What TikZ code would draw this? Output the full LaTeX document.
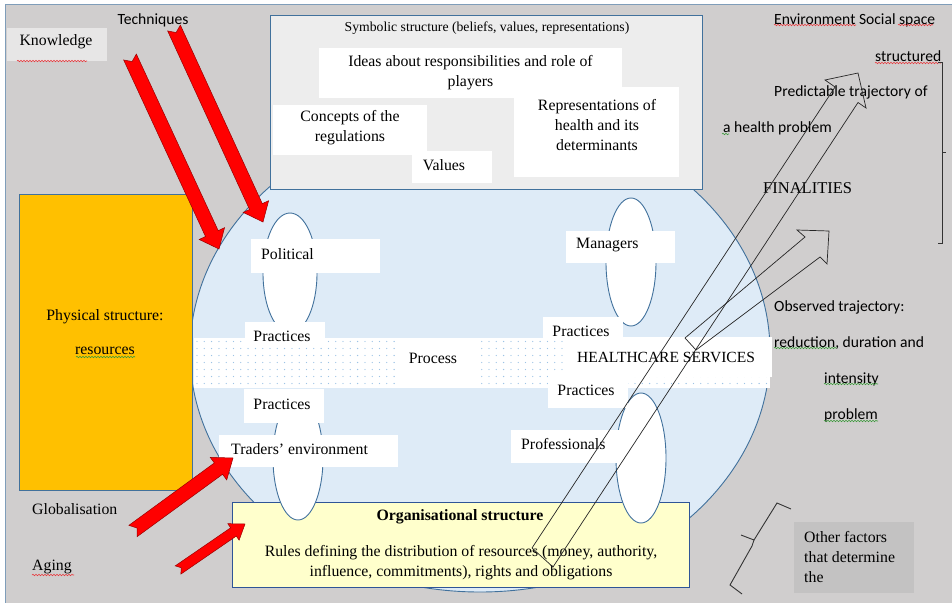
\documentclass[tikz,border=0pt]{standalone}
\usepackage{fontspec}
\setmainfont{Liberation Serif}
\newfontfamily\calfont{Carlito}
\usetikzlibrary{calc,shapes.geometric,decorations.pathmorphing}
\definecolor{bggray}{HTML}{D0CECE}
\definecolor{frameblue}{HTML}{7F9DB9}
\definecolor{lineblue}{HTML}{41719C}
\definecolor{darkblue}{HTML}{2F5597}
\definecolor{circblue}{HTML}{DEEBF7}
\definecolor{symgray}{HTML}{EDEDED}
\definecolor{knowgray}{HTML}{E7E6E6}
\definecolor{physorange}{HTML}{FFC000}
\definecolor{orgyellow}{HTML}{FFFFCC}
\definecolor{othergray}{HTML}{C3C2C2}
\definecolor{dotblue}{HTML}{9DC3E6}
\definecolor{wred}{HTML}{E8383D}
\definecolor{wgreen}{HTML}{3A9A3A}
\newcommand\redarr[6]{%
  \coordinate (ra-h) at ($(#2)!#5!(#1)$);
  \filldraw[redarrow] ($(#1)!#3!90:(#2)$) -- ($(#1)!#6!(#2)$) -- ($(#1)!#3!-90:(#2)$)
    -- ($(ra-h)!#3!-90:(#2)$) -- ($(ra-h)!#4!-90:(#2)$) -- (#2)
    -- ($(ra-h)!#4!90:(#2)$) -- ($(ra-h)!#3!90:(#2)$) -- cycle;}
\begin{document}
\begin{tikzpicture}[x=1pt,y=-1pt,
  every node/.style={inner sep=0pt, font=\fontsize{15.8}{20}\selectfont},
  outl/.style={draw=lineblue, line width=0.9pt},
  wbox/.style={rectangle, fill=white},
  well/.style={ellipse, fill=white, outl},
  sans/.style={font=\calfont\fontsize{15.6}{20}\selectfont},
  redarrow/.style={fill=red, draw=red!60!black, line width=0.5pt},
  hollow/.style={draw=black!85, line width=0.7pt, line join=miter},
  wavy/.style={decorate, decoration={snake, amplitude=0.7pt, segment length=3pt}, line width=0.6pt},
  brk/.style={draw=black!80, line width=0.9pt},
  banddot/.style={fill=dotblue},
]
\clip (0,0) rectangle (952,602);
\fill[white] (0,0) rectangle (952,602);
\node[rectangle, fill=bggray, draw=frameblue, line width=0.8pt, minimum width=960pt, minimum height=610pt, anchor=north west] (frame) at (5,4) {};

% big ellipse
\node[ellipse, fill=circblue, outl, minimum width=580pt, minimum height=480pt] (circ) at (480,352) {};

% symbolic structure
\node[rectangle, fill=symgray, outl, minimum width=432pt, minimum height=174pt] (symb) at (486,102) {};
\node[font=\fontsize{13.7}{16}\selectfont] (symbT) at (487,28) {Symbolic structure (beliefs, values, representations)};
\node[wbox, minimum width=303pt, minimum height=50pt] (ideasB) at (470.5,73) {};
\node[align=center] (ideas) at (470.5,73) {Ideas about responsibilities and role of\\players};
\node[wbox, minimum width=154pt, minimum height=50pt] (concB) at (350,130) {};
\node[align=center] (conc) at (350,128) {Concepts of the\\regulations};
\node[wbox, minimum width=80pt, minimum height=32pt] (valB) at (452,167) {};
\node (val) at (444,165) {Values};
\node[wbox, minimum width=165pt, minimum height=90pt] (repB) at (596.5,132) {};
\node[align=center] (rep) at (597,125) {Representations of\\health and its\\determinants};

% knowledge / techniques
\node[rectangle, fill=knowgray, minimum width=100pt, minimum height=33pt] (knowB) at (57,44.5) {};
\node (know) at (56,42) {Knowledge};
\draw[wavy, wred] (17,61) -- (87,61);
\node[sans] (tech) at (153,20) {Techniques};

% physical structure
\node[rectangle, fill=physorange, outl, minimum width=173pt, minimum height=296pt] (phys) at (105.5,342) {};
\node (physT) at (105,317) {Physical structure:};
\node (res) at (105,351) {resources};
\draw[wavy, wgreen] (76,357) -- (135,357);

% process band
\node[rectangle, fill=white, minimum width=576pt, minimum height=50pt] (band) at (482,363) {};
\foreach \i in {0,...,78} {\foreach \j in {0,...,6} {\fill[banddot] (197+7.3*\i, 341.5+7*\j) circle[radius=0.65pt];}}
\node[wbox, minimum width=84pt, minimum height=50pt] (procB) at (439,363) {};
\node (proc) at (433,358) {Process};
\node[wbox, minimum width=209pt, minimum height=40pt] (hcB) at (667.5,357) {};
\node[font=\fontsize{15.5}{18}\selectfont] (hc) at (666,357) {HEALTHCARE SERVICES};

% organisational structure
\node[rectangle, fill=orgyellow, draw=darkblue, line width=0.9pt, minimum width=457pt, minimum height=85pt] (org) at (460.5,544.5) {};
\node[font=\bfseries\fontsize{15.8}{20}\selectfont] (orgT) at (460,517) {Organisational structure};
\node[align=center] (orgR) at (461,563) {Rules defining the distribution of resources (money, authority,\\influence, commitments), rights and obligations};

% small ellipses
\node[well, minimum width=54pt, minimum height=120pt] (polE) at (290,273) {};
\node[well, minimum width=50pt, minimum height=128pt] (manE) at (631,262) {};
\node[well, minimum width=50pt, minimum height=124pt] (traE) at (298,458) {};
\node[well, minimum width=50pt, minimum height=130pt] (proE) at (641,458) {};

% label boxes
\node[wbox, minimum width=129pt, minimum height=34pt] (polB) at (315.5,256) {};
\node[anchor=west] (pol) at (261,254) {Political};
\node[wbox, minimum width=109pt, minimum height=32pt] (manB) at (620.5,247) {};
\node[anchor=west] (man) at (576,245) {Managers};
\node[wbox, minimum width=179pt, minimum height=32pt] (traB) at (308.5,451) {};
\node[anchor=west] (tra) at (231,449) {Traders' environment};
\node[wbox, minimum width=108pt, minimum height=33pt] (proB) at (565,446.5) {};
\node[anchor=west] (pro) at (521,444) {Professionals};
\node[wbox, minimum width=80pt, minimum height=24pt] (pLUB) at (285,334) {};
\node (pLU) at (282,336) {Practices};
\node[wbox, minimum width=80pt, minimum height=34pt] (pLLB) at (284,406) {};
\node (pLL) at (282,404) {Practices};
\node[wbox, minimum width=80pt, minimum height=23pt] (pRUB) at (583,328.5) {};
\node (pRU) at (581,331) {Practices};
\node[wbox, minimum width=80pt, minimum height=33pt] (pRLB) at (588,391.5) {};
\node (pRL) at (586,390) {Practices};

% left bottom labels
\node[anchor=west] (glob) at (32,509) {Globalisation};
\node[anchor=west] (aging) at (32,567) {Aging};
\draw[wavy, wred] (32,575) -- (74,575);

% right side texts
\node[sans, anchor=west] (env) at (774,20) {Environment Social space};
\draw[wavy, wred] (774,25) -- (856,25);
\draw[wavy, wred] (898,25) -- (933,25);
\node[sans, anchor=west] (struc) at (875,56) {structured};
\draw[wavy, wred] (875,63) -- (941,63);
\node[sans, anchor=west] (pred) at (774,92) {Predictable trajectory of};
\node[sans, anchor=west] (hp) at (723,128) {a health problem};
\draw[wavy, wgreen] (722,134) -- (729,134);
\node[anchor=west, font=\fontsize{16.5}{20}\selectfont] (fin) at (763,188) {FINALITIES};
\node[sans, anchor=west] (obs) at (774,307) {Observed trajectory:};
\node[sans, anchor=west] (redu) at (774,343) {reduction, duration and};
\draw[wavy, wgreen] (774,348) -- (837,348);
\node[sans, anchor=west] (inten) at (824,379) {intensity};
\draw[wavy, wgreen] (824,384) -- (878,384);
\node[sans, anchor=west] (prob) at (824,415) {problem};
\draw[wavy, wgreen] (824,421) -- (878,421);

% right bracket
\coordinate (bk1) at (938,62);
\coordinate (bk2) at (942,62);
\coordinate (bk3) at (942,243);
\coordinate (bk4) at (938,243);
\draw[brk] (bk1) -- (bk2) -- (bk3) -- (bk4);
\draw[brk] (942,152) -- (946,152);

% other factors
\node[rectangle, fill=othergray, minimum width=120pt, minimum height=71pt] (othB) at (854,557.5) {};
\node[anchor=west, align=left] (oth) at (804,557) {Other factors\\that determine\\the};
\draw[brk] (791,509) -- (777,503) -- (754,540) -- (741,535);
\draw[brk] (754,540) -- (752,546) -- (730,585) -- (742,594);

% hollow arrows
\draw[hollow] (532,548) -- (835,87) -- (825,80) -- (858,73) -- (866,108) -- (858,102.5) -- (553,567) -- cycle;
\draw[hollow] (685,338) -- (805,237) -- (797,230) -- (829,231) -- (827,264) -- (820,257) -- (696,350) -- cycle;

% red arrows
\coordinate (kT) at (130,57);  \coordinate (kH) at (219,249);
\coordinate (tT) at (174,28);  \coordinate (tH) at (263,222);
\coordinate (gT) at (133,531); \coordinate (gH) at (233,458);
\coordinate (aT) at (178,570); \coordinate (aH) at (245,524);
\redarr{kT}{kH}{7pt}{14pt}{17pt}{5pt}
\redarr{tT}{tH}{7pt}{14pt}{17pt}{5pt}
\redarr{gT}{gH}{7pt}{14pt}{18pt}{5pt}
\redarr{aT}{aH}{5pt}{10pt}{14pt}{4pt}
\end{tikzpicture}
\end{document}
